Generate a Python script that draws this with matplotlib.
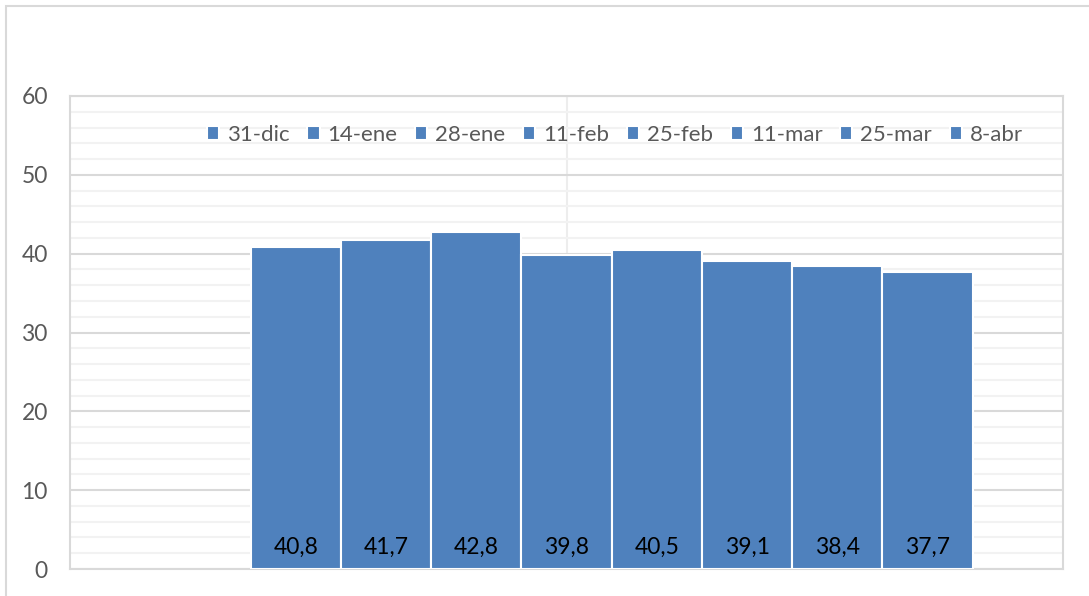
import matplotlib
matplotlib.use("Agg")
import matplotlib.pyplot as plt
from matplotlib.patches import Rectangle
import numpy as np

series = ["31-dic", "14-ene", "28-ene", "11-feb", "25-feb", "11-mar", "25-mar", "8-abr"]
values = [40.8, 41.7, 42.8, 39.8, 40.5, 39.1, 38.4, 37.7]
value_labels = ["40,8", "41,7", "42,8", "39,8", "40,5", "39,1", "38,4", "37,7"]
yticks = [0, 10, 20, 30, 40, 50, 60]

plt.rcParams['font.family'] = ['Lato', 'DejaVu Sans']

bar_color = "#4F81BD"
text_gray = "#595959"
fs = 16.5

fig = plt.figure(figsize=(10.89, 5.96), dpi=100)
ax = fig.add_axes([70/1089, 1 - 569/596, 993/1089, 473/596])

# outer chart border
fig.add_artist(Rectangle((6/1089, -0.05), 1.2, 1 - 6/596 + 0.05, transform=fig.transFigure,
                         fill=False, edgecolor="#D9D9D9", linewidth=1.5))

x = np.arange(len(series))
for i, (s, v) in enumerate(zip(series, values)):
    ax.bar(x[i], v, width=1.0, color=bar_color, edgecolor="white", linewidth=1.5,
           label=s, zorder=3)
    ax.text(x[i], 2.8, value_labels[i], ha="center", va="center", fontsize=fs,
            color="black", zorder=4)

ax.set_xlim(-2.5, len(series) + 0.5)
ax.set_ylim(0, 60)
ax.set_yticks(yticks)
ax.set_yticks(np.arange(0, 61, 2), minor=True)
ax.set_xticks([])
ax.tick_params(axis="y", which="both", length=0, pad=16, labelsize=fs, labelcolor=text_gray)

ax.grid(axis="y", which="major", color="#D9D9D9", linewidth=1.5, zorder=1)
ax.grid(axis="y", which="minor", color="#F2F2F2", linewidth=1.5, zorder=0)
xl = ax.get_xlim()
ax.axvline((xl[0] + xl[1]) / 2, color="#EDEDED", linewidth=1.5, zorder=0)

for sp in ax.spines.values():
    sp.set_color("#D9D9D9")
    sp.set_linewidth(1.5)

leg = fig.legend(loc="center", bbox_to_anchor=(615/1089, 1 - 135/596), ncol=8,
                 frameon=False, fontsize=16, handlelength=0.55, handleheight=0.55,
                 handletextpad=0.35, columnspacing=0.8, labelcolor=text_gray)

fig.savefig("out.png", dpi=100)
